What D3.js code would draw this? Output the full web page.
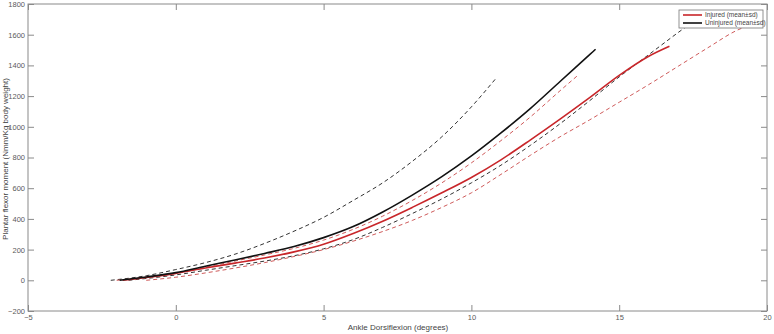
<!DOCTYPE html>
<html><head><meta charset="utf-8">
<script src="https://cdn.jsdelivr.net/npm/d3@7"></script>
<style>body{margin:0;background:#fff}svg{display:block}text{font-family:"Liberation Sans",Arial,sans-serif}</style>
</head><body>
<svg id="c" width="774" height="334"></svg>
<script>
const xTicks = [-5, 0, 5, 10, 15, 20];
const yTicks = [-200, 0, 200, 400, 600, 800, 1000, 1200, 1400, 1600, 1800];

// Uninjured mean (black solid)
const uninjuredMean = [[-1.9,0],[-1,22],[0,50],[1,92],[2,132],[3,175],[4,220],[5,278],[6,350],[7,445],[8,555],[9,675],[10,810],[11,960],[12,1120],[13,1295],[14,1470],[14.2,1505]];
// Uninjured +sd (black dashed upper)
const uninjuredUpper = [[-2.2,0],[-1,30],[0,70],[1,115],[2,170],[3,240],[4,320],[5,410],[6,520],[7,635],[8,775],[9,935],[10,1130],[10.85,1320]];
// Uninjured -sd (black dashed lower)
const uninjuredLower = [[-1.6,0],[0,35],[1,65],[2,95],[3,125],[4,160],[5,205],[6,265],[7,345],[8,435],[9,530],[10,635],[11,750],[12,880],[13,1020],[14,1170],[15,1325],[16,1470],[17,1615],[17.9,1740]];
// Injured mean (red solid)
const injuredMean = [[-1.8,0],[-1,18],[0,45],[1,80],[2,112],[3,145],[4,185],[5,235],[6,305],[7,385],[8,475],[9,570],[10,670],[11,785],[12,915],[13,1050],[14,1190],[15,1335],[16,1460],[16.7,1525]];
// Injured +sd (red dashed upper)
const injuredUpper = [[-2,0],[-1,20],[0,45],[1,85],[2,125],[3,165],[4,208],[5,262],[6,332],[7,418],[8,520],[9,635],[10,765],[11,910],[12,1065],[13,1235],[13.6,1335]];
// Injured -sd (red dashed lower)
const injuredLower = [[-1,0],[0,20],[1,48],[2,80],[3,115],[4,155],[5,200],[6,255],[7,318],[8,390],[9,475],[10,570],[11,690],[12,815],[13,935],[14,1045],[15,1160],[16,1275],[17,1395],[18,1515],[19,1630],[19.9,1690]];

const legendLabels = ["Injured (mean\u00b1sd)", "Uninjured (mean\u00b1sd)"];

const svg = d3.select("#c");
const L = 28, R = 767, T = 4, B = 311;
const x = d3.scaleLinear().domain([-5, 20]).range([L, R]);
const y = d3.scaleLinear().domain([-200, 1800]).range([B, T]);
const axisCol = "#8a8a8a", textCol = "#5a5a5a";

const line = d3.line().x(d => x(d[0])).y(d => y(d[1])).curve(d3.curveMonotoneX);

const g = svg.append("g");
const series = [
  {d: uninjuredUpper, c: "#333", w: 1, dash: "4,3"},
  {d: uninjuredLower, c: "#333", w: 1, dash: "4,3"},
  {d: injuredUpper, c: "#cf5a5a", w: 1, dash: "4,3"},
  {d: injuredLower, c: "#cf5a5a", w: 1, dash: "4,3"},
  {d: injuredMean, c: "#c8262a", w: 1.6, dash: null},
  {d: uninjuredMean, c: "#111", w: 1.6, dash: null}
];
series.forEach(s => {
  g.append("path").attr("d", line(s.d)).attr("fill", "none")
    .attr("stroke", s.c).attr("stroke-width", s.w)
    .attr("stroke-dasharray", s.dash);
});

// axes box
svg.append("rect").attr("x", L).attr("y", T).attr("width", R - L).attr("height", B - T)
  .attr("fill", "none").attr("stroke", axisCol).attr("stroke-width", 1);

const fmt = d3.format("d");
const axB = d3.axisBottom(x).tickValues(xTicks).tickFormat(fmt).tickSizeInner(-6).tickSizeOuter(0).tickPadding(4);
const gB = svg.append("g").attr("transform", `translate(0,${B})`).call(axB);
gB.select(".domain").remove();
gB.selectAll("line").attr("stroke", axisCol);
gB.selectAll("text").attr("fill", textCol).attr("font-size", 7.5);
const axT = d3.axisTop(x).tickValues(xTicks).tickSizeInner(-6).tickSizeOuter(0).tickFormat("");
const gT = svg.append("g").attr("transform", `translate(0,${T})`).call(axT);
gT.select(".domain").remove(); gT.selectAll("line").attr("stroke", axisCol);

const axL = d3.axisLeft(y).tickValues(yTicks).tickFormat(fmt).tickSizeInner(-6).tickSizeOuter(0).tickPadding(3);
const gL = svg.append("g").attr("transform", `translate(${L},0)`).call(axL);
gL.select(".domain").remove();
gL.selectAll("line").attr("stroke", axisCol);
gL.selectAll("text").attr("fill", textCol).attr("font-size", 7.5);
const axR = d3.axisRight(y).tickValues(yTicks).tickSizeInner(-6).tickSizeOuter(0).tickFormat("");
const gR = svg.append("g").attr("transform", `translate(${R},0)`).call(axR);
gR.select(".domain").remove(); gR.selectAll("line").attr("stroke", axisCol);

svg.selectAll(".tick text").style("font-family", "'Liberation Sans',Arial,sans-serif");

// labels
svg.append("text").attr("x", 398).attr("y", 330).attr("text-anchor", "middle")
  .attr("font-size", 8).attr("fill", "#444").text("Ankle Dorsiflexion (degrees)");
svg.append("text").attr("transform", `translate(8,159) rotate(-90)`)
  .attr("text-anchor", "middle").attr("font-size", 8).attr("fill", "#444")
  .text("Plantar flexor moment (Nmm/Kg body weight)");

// legend
const lg = svg.append("g");
lg.append("rect").attr("x", 679).attr("y", 10).attr("width", 84).attr("height", 18)
  .attr("fill", "#fff").attr("stroke", "#777").attr("stroke-width", 0.8);
const legCols = ["#c8262a", "#111"];
legendLabels.forEach((t, i) => {
  const yy = 15 + i * 8;
  lg.append("line").attr("x1", 683).attr("x2", 702).attr("y1", yy).attr("y2", yy)
    .attr("stroke", legCols[i]).attr("stroke-width", 1.6);
  lg.append("text").attr("x", 705).attr("y", yy).attr("dy", "0.35em")
    .attr("font-size", 6.5).attr("fill", "#444").text(t);
});
</script>
</body></html>
